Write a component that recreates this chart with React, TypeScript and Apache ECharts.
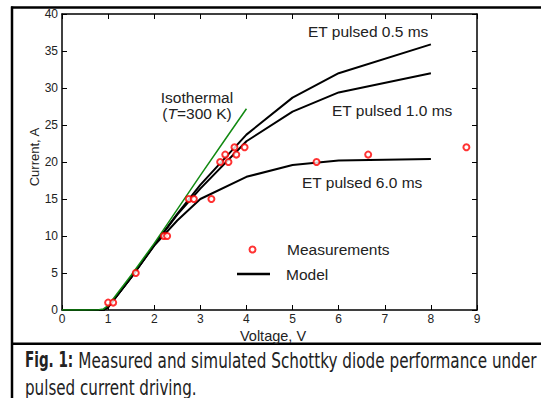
import React, { useEffect, useRef } from "react";
import * as echarts from "echarts";

// ---- data ----
const measV = [1.0, 1.11, 1.6, 2.21, 2.28, 2.75, 2.86, 3.24, 3.43, 3.54, 3.61, 3.74, 3.78, 3.96, 5.52, 6.64, 8.77];
const measI = [1, 1, 5, 10, 10, 15, 15, 15, 20, 21, 20, 22, 21, 22, 20, 21, 22];

const modelV = [0, 0.9, 1.0, 1.5, 2, 2.5, 3, 4, 5, 6, 8];
const model05I = [0, 0, 0.4, 4.4, 8.8, 13.0, 16.9, 23.7, 28.7, 32.0, 35.9];
const model10I = [0, 0, 0.4, 4.4, 8.8, 12.9, 16.4, 22.8, 26.8, 29.4, 32.0];
const model60I = [0, 0, 0.4, 4.4, 8.7, 12.1, 15.0, 18.0, 19.6, 20.2, 20.4];

const isoV = [0, 0.5, 0.8, 0.9, 1.0, 1.5, 2, 2.5, 3, 3.5, 4.0];
const isoI = [0, 0, 0.05, 0.15, 0.6, 4.7, 9.0, 13.6, 18.2, 22.7, 27.2];

const xTicks = { min: 0, max: 9, interval: 1 };
const yTicks = { min: 0, max: 40, interval: 5 };

const captionBold = "Fig. 1:";
const captionLine1 = "Measured and simulated Schottky diode performance under";
const captionLine2 = "pulsed current driving.";

const FONT = '"Liberation Sans", Arial, sans-serif';
const CAP_FONT = '"DejaVu Sans Condensed", "Liberation Sans Narrow", "Liberation Sans", Arial, sans-serif';

const zip = (xs: number[], ys: number[]) => xs.map((x, i) => [x, ys[i]]);

function measure(text: string, font: string): number {
  const c = document.createElement("canvas");
  const ctx = c.getContext("2d");
  if (!ctx) return text.length * 10;
  ctx.font = font;
  return ctx.measureText(text).width;
}

export default function App() {
  const ref = useRef<HTMLDivElement>(null);

  useEffect(() => {
    document.body.style.margin = "0";
    if (!ref.current) return;
    const chart = echarts.init(ref.current, undefined, { renderer: "svg" });

    const capSize = 21;
    const wBold = measure(captionBold, `bold ${capSize}px ${CAP_FONT}`);
    const w1 = measure(captionLine1, `${capSize}px ${CAP_FONT}`);
    const w2 = measure(captionLine2, `${capSize}px ${CAP_FONT}`);

    const axisCommon = {
      type: "value" as const,
      splitLine: { show: false },
      axisLine: { show: true, onZero: false, lineStyle: { color: "#000", width: 1.5 } },
      axisTick: { show: true, inside: true, length: 5, lineStyle: { color: "#000", width: 1 } },
    };

    const labelStyle = { color: "#222", fontSize: 12, fontFamily: FONT };

    const lineSeries = (data: number[][]) => ({
      type: "line",
      name: "Model",
      data,
      symbol: "none",
      lineStyle: { color: "#000", width: 2 },
      itemStyle: { color: "#000" },
      z: 2,
    });

    const annot = (x: number, y: number, text: string, align = "left") => ({
      type: "text",
      x,
      y,
      style: { text, font: `15.5px ${FONT}`, fill: "#222", align, verticalAlign: "middle" },
    });

    const option: any = {
      animation: false,
      backgroundColor: "#fff",
      grid: { left: 62, top: 14, right: 64, bottom: 88 },
      xAxis: [
        { ...axisCommon, ...xTicks, position: "bottom", axisLabel: { ...labelStyle, margin: 3 } },
        { ...axisCommon, ...xTicks, position: "top", axisLabel: { show: false } },
      ],
      yAxis: [
        { ...axisCommon, ...yTicks, position: "left", axisLabel: { ...labelStyle, margin: 4 } },
        { ...axisCommon, ...yTicks, position: "right", axisLabel: { show: false } },
      ],
      legend: [
        {
          data: ["Measurements"],
          left: 248.5,
          top: 241.5,
          padding: 0,
          itemWidth: 6,
          itemHeight: 6,
          selectedMode: false,
          textStyle: { fontSize: 15.5, fontFamily: FONT, color: "#222", padding: [0, 0, 0, 26.5] },
        },
        {
          data: [{ name: "Model", icon: "rect" }],
          left: 237,
          top: 266,
          padding: 0,
          itemWidth: 33,
          itemHeight: 2.5,
          selectedMode: false,
          itemStyle: { color: "#000" },
          textStyle: { fontSize: 15.5, fontFamily: FONT, color: "#222", padding: [0, 0, 0, 11] },
        },
      ],
      series: [
        lineSeries(zip(modelV, model05I)),
        lineSeries(zip(modelV, model10I)),
        lineSeries(zip(modelV, model60I)),
        {
          type: "line",
          name: "Isothermal",
          data: zip(isoV, isoI),
          symbol: "none",
          lineStyle: { color: "#128a12", width: 1.5 },
          itemStyle: { color: "#128a12" },
          z: 3,
        },
        {
          type: "scatter",
          name: "Measurements",
          data: zip(measV, measI),
          symbol: "circle",
          symbolSize: 6,
          itemStyle: { color: "#fff", borderColor: "#ff0000", borderWidth: 2 },
          z: 4,
        },
      ],
      graphic: [
        // frame
        { type: "line", shape: { x1: 12, y1: 6.5, x2: 12, y2: 398 }, style: { stroke: "#000", lineWidth: 2.5 } },
        { type: "line", shape: { x1: 11, y1: 7.5, x2: 541, y2: 7.5 }, style: { stroke: "#000", lineWidth: 2.5 } },
        { type: "line", shape: { x1: 11, y1: 343.7, x2: 541, y2: 343.7 }, style: { stroke: "#000", lineWidth: 2.5 } },
        // axis names
        {
          type: "text",
          x: 34,
          y: 157,
          rotation: Math.PI / 2,
          style: { text: "Current, A", font: `13px ${FONT}`, fill: "#222", align: "center", verticalAlign: "middle" },
        },
        {
          type: "text",
          x: 273,
          y: 335.5,
          style: { text: "Voltage, V", font: `14.5px ${FONT}`, fill: "#222", align: "center", verticalAlign: "middle" },
        },
        // curve annotations
        annot(197, 97, "Isothermal", "center"),
        {
          type: "text",
          x: 197,
          y: 113,
          style: {
            text: "({i|T}=300 K)",
            font: `15.5px ${FONT}`,
            fill: "#222",
            align: "center",
            verticalAlign: "middle",
            rich: { i: { fontStyle: "italic", fontSize: 15.5, fontFamily: FONT, fill: "#222" } },
          },
        },
        annot(308, 31, "ET pulsed 0.5 ms"),
        annot(332, 110, "ET pulsed 1.0 ms"),
        annot(302, 182, "ET pulsed 6.0 ms"),
        // caption
        {
          type: "text",
          x: 25,
          y: 360,
          scaleX: 48.3 / wBold,
          style: { text: captionBold, font: `bold ${capSize}px ${CAP_FONT}`, fill: "#222", align: "left", verticalAlign: "middle" },
        },
        {
          type: "text",
          x: 78.3,
          y: 360,
          scaleX: 458.4 / w1,
          style: { text: captionLine1, font: `${capSize}px ${CAP_FONT}`, fill: "#222", align: "left", verticalAlign: "middle" },
        },
        {
          type: "text",
          x: 25,
          y: 387,
          scaleX: 171.7 / w2,
          style: { text: captionLine2, font: `${capSize}px ${CAP_FONT}`, fill: "#222", align: "left", verticalAlign: "middle" },
        },
      ],
    };

    chart.setOption(option);
    return () => chart.dispose();
  }, []);

  return <div ref={ref} style={{ width: 541, height: 398 }} />;
}
